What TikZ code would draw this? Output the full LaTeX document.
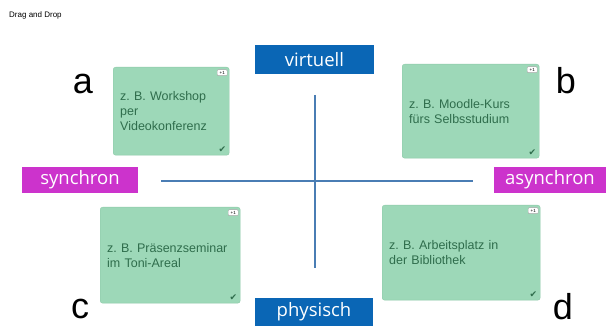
\documentclass[tikz,border=0pt]{standalone}
\usepackage{fontspec}
\setmainfont{Liberation Sans}
\newfontfamily\labelfam{Open Sans}
\newfontfamily\symfam{DejaVu Sans}
\usepackage{tikz}
\usetikzlibrary{positioning}
\frenchspacing
\definecolor{cardfill}{HTML}{9DD8B8}
\definecolor{cardedge}{HTML}{8CC9A8}
\definecolor{cardtext}{HTML}{2F6D4C}
\definecolor{axisline}{HTML}{4A7DB4}
\definecolor{vp_blue}{HTML}{0A66B5}
\definecolor{sa_mag}{HTML}{CC33CC}

\tikzset{
    card/.style 2 args={draw=cardedge, fill=cardfill, rounded corners=2.5pt,
        anchor=north west, align=left, inner xsep=7pt, inner ysep=0pt,
        text width=#1, minimum height=#2, text=cardtext,
        font=\fontsize{12.5}{14.8}\selectfont},
    axislabel/.style={fill=#1, text=white, inner sep=0pt, minimum height=28pt,
        font=\labelfam\fontsize{18.5}{20}\selectfont},
    corner/.style={font=\fontsize{36}{36}\selectfont, inner sep=0pt},
    badge/.style={draw=gray!70, fill=white, rounded corners=1pt, inner sep=0.6pt,
        minimum width=10pt, minimum height=6pt, anchor=north east,
        font=\fontsize{4.5}{4.5}\selectfont},
    tick/.style={text=cardtext, anchor=south east, inner sep=0pt,
        font=\symfam\fontsize{9}{9}\selectfont}
}

\begin{document}
\begin{tikzpicture}[x=1pt, y=-1pt]
    \useasboundingbox (0,0) rectangle (606,326);

    \node[anchor=west, inner sep=0pt, font=\fontsize{8}{8}\selectfont] (title) at (9,15) {Drag and Drop};

    % axes
    \coordinate (west) at (161,181);
    \coordinate (east) at (473,181);
    \coordinate (north) at (315,95);
    \coordinate (south) at (315,268);
    \draw[axisline, line width=1.6pt] (west) -- (east);
    \draw[axisline, line width=1.6pt] (north) -- (south);

    % axis labels
    \node[axislabel=vp_blue, minimum width=119pt, minimum height=29pt] (virtuell) at (314.5,59.5) {virtuell};
    \node[axislabel=vp_blue, minimum width=118pt] (physisch) at (314,312) {physisch};
    \node[axislabel=sa_mag, minimum width=116pt, minimum height=26pt] (synchron) at (80,180) {synchron};
    \node[axislabel=sa_mag, minimum width=112pt, minimum height=26pt] (asynchron) at (550,180) {asynchron};

    % cards
    \node[card={102pt}{88pt}] (wa) at (113,67) {z. B. Workshop\\per\\Videokonferenz};
    \node[card={123pt}{94pt}] (wb) at (402,64) {z. B. Moodle-Kurs\\fürs Selbsstudium};
    \node[card={126pt}{96pt}] (wc) at (100,207) {z. B. Präsenzseminar\\im Toni-Areal};
    \node[card={144pt}{95pt}] (wd) at (382,205) {z. B. Arbeitsplatz in\\der Bibliothek};

    \foreach \c in {wa,wb,wc,wd}{
        \node[badge] (\c-badge) at ([xshift=-2pt,yshift=-2.5pt]\c.north east) {+1};
        \node[tick] (\c-tick) at ([xshift=-3pt,yshift=3pt]\c.south east) {✔};
    }

    % corner letters
    \node[corner] (la) at (83,84) {a};
    \node[corner] (lb) at (566,81) {b};
    \node[corner] (lc) at (80,309) {c};
    \node[corner] (ld) at (563,307) {d};
\end{tikzpicture}
\end{document}
